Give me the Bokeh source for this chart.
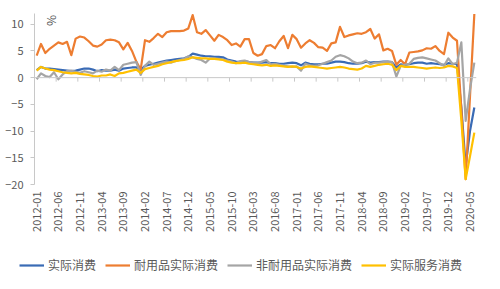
import math
import pandas as pd
from bokeh.plotting import figure
from bokeh.layouts import column
from bokeh.models import FixedTicker, Range1d, Span, Legend, LegendItem, Label
from bokeh.embed import file_html
from bokeh.resources import INLINE

# ---- data -------------------------------------------------------------
MONTHS = [str(p) for p in pd.period_range("2012-01", "2020-06", freq="M")]

TICK_LABELS = ["2012-01", "2012-06", "2012-11", "2013-04", "2013-09", "2014-02",
               "2014-07", "2014-12", "2015-05", "2015-10", "2016-03", "2016-08",
               "2017-01", "2017-06", "2017-11", "2018-04", "2018-09", "2019-02",
               "2019-07", "2019-12", "2020-05"]

SERIES_NAMES = ["实际消费", "耐用品实际消费", "非耐用品实际消费", "实际服务消费"]

TOTAL = [1.4, 2.0, 1.7, 1.7, 1.6, 1.5, 1.4, 1.3, 1.2, 1.3,
         1.5, 1.7, 1.7, 1.5, 1.2, 1.4, 1.3, 1.3, 1.5, 1.3,
         1.7, 1.8, 1.9, 1.9, 1.4, 2.2, 2.4, 2.6, 2.8, 3.0,
         3.2, 3.3, 3.4, 3.5, 3.6, 3.9, 4.5, 4.3, 4.1, 4.0,
         4.0, 3.9, 3.9, 3.8, 3.4, 3.2, 3.0, 2.9, 3.1, 2.9,
         2.8, 2.8, 2.8, 2.9, 2.7, 2.7, 2.6, 2.6, 2.7, 2.8,
         2.7, 2.3, 2.8, 2.6, 2.5, 2.5, 2.6, 2.6, 2.8, 3.0,
         3.0, 2.9, 2.7, 2.6, 2.6, 2.7, 3.0, 2.8, 2.9, 2.9,
         3.0, 3.0, 2.9, 1.9, 2.5, 2.4, 2.5, 2.7, 2.8, 2.8,
         2.6, 2.7, 2.6, 2.5, 2.4, 2.7, 2.6, 2.5, -5.5, -16.5,
         -10.0, -5.6]

DURABLE = [4.1, 6.3, 4.6, 5.4, 6.0, 6.6, 6.3, 6.7, 4.2, 7.3,
           7.7, 7.5, 6.8, 6.0, 5.8, 6.2, 7.0, 7.1, 7.0, 6.6,
           5.3, 6.5, 5.0, 3.0, 1.5, 7.0, 6.7, 7.4, 8.2, 7.6,
           8.5, 8.7, 8.7, 8.7, 8.8, 9.2, 11.7, 8.5, 8.2, 8.9,
           7.9, 6.9, 8.0, 7.6, 7.0, 6.1, 6.4, 5.8, 7.2, 7.2,
           4.6, 4.1, 4.4, 5.9, 6.1, 5.5, 6.8, 7.8, 5.5, 8.0,
           7.2, 5.6, 6.4, 7.0, 6.5, 5.7, 5.6, 5.0, 6.4, 6.6,
           9.5, 7.6, 7.9, 8.1, 8.3, 8.2, 8.5, 9.1, 7.3, 8.1,
           5.1, 5.4, 5.0, 2.4, 3.3, 2.5, 4.7, 4.8, 4.9, 5.1,
           5.5, 5.4, 5.9, 5.0, 4.4, 8.4, 7.5, 6.9, -6.0, -19.0,
           -3.5, 11.9]

NONDURABLE = [-0.3, 0.8, 0.3, 0.1, 1.0, -0.3, 0.6, 1.2, 1.3, 1.1,
              0.9, 1.2, 1.0, 0.8, 1.3, 1.1, 1.5, 1.3, 2.0, 1.4,
              2.4, 2.6, 2.8, 2.9, 0.5, 2.2, 3.0, 2.4, 2.6, 2.8,
              3.0, 2.8, 3.1, 3.3, 3.5, 4.0, 3.8, 3.5, 3.3, 2.8,
              3.6, 3.6, 3.5, 3.4, 3.2, 3.0, 2.7, 3.1, 3.2, 2.9,
              2.8, 2.7, 3.0, 3.3, 2.5, 2.6, 2.4, 2.2, 2.1, 2.0,
              2.1, 1.3, 2.6, 2.3, 2.2, 2.3, 2.6, 2.9, 3.2, 3.9,
              4.2, 4.0, 3.6, 3.0, 2.7, 2.8, 3.2, 2.5, 2.8, 2.8,
              2.9, 3.0, 2.9, 0.2, 2.2, 2.4, 2.6, 3.5, 3.7, 3.8,
              3.6, 3.4, 3.2, 2.7, 2.2, 3.6, 2.5, 2.8, 6.6, -8.1,
              -2.2, 2.8]

SERVICES = [1.3, 2.0, 1.7, 1.5, 1.4, 1.2, 1.0, 0.9, 0.8, 0.9,
            0.7, 0.6, 0.5, 0.3, 0.2, 0.4, 0.4, 0.6, 0.3, 0.8,
            0.9, 1.1, 1.3, 1.5, 0.9, 1.6, 1.8, 2.0, 2.2, 2.5,
            2.7, 2.9, 3.1, 3.2, 3.3, 3.5, 3.8, 3.7, 3.6, 3.6,
            3.5, 3.5, 3.4, 3.3, 3.0, 2.8, 2.7, 2.7, 2.8, 2.6,
            2.5, 2.4, 2.3, 2.4, 2.2, 2.3, 2.2, 2.1, 2.0, 2.1,
            2.0, 1.7, 2.0, 2.1, 2.0, 1.9, 1.8, 1.7, 1.8, 1.9,
            2.0, 1.9, 1.7, 1.6, 1.5, 1.7, 2.2, 2.0, 2.2, 2.4,
            2.5, 2.6, 2.4, 1.4, 2.2, 2.0, 2.0, 2.0, 1.9, 1.8,
            1.7, 1.8, 1.9, 1.8, 1.9, 2.2, 2.1, 1.8, -8.0, -19.0,
            -14.7, -10.3]

Y_TICKS = [-20, -15, -10, -5, 0, 5, 10]
Y_MIN, Y_MAX = -20, 12

# ---- style ------------------------------------------------------------
COLORS = ["#3A6BB5", "#ED7D31", "#A5A5A5", "#FFC000"]
TEXT_COLOR = "#595959"
AXIS_COLOR = "#C8C8C8"
FONT = "Noto Sans CJK SC"

x = list(range(len(MONTHS)))
tick_idx = [MONTHS.index(t) for t in TICK_LABELS]
all_series = [TOTAL, DURABLE, NONDURABLE, SERVICES]

p = figure(width=500, height=250, output_backend="svg", toolbar_location=None,
           x_range=Range1d(-0.5, len(MONTHS) - 0.5), y_range=Range1d(Y_MIN, Y_MAX),
           min_border_left=34, min_border_right=24, min_border_top=13,
           min_border_bottom=66)
p.frame_align = False
p.outline_line_color = None
p.xgrid.visible = False
p.ygrid.visible = False

# y axis
ya = p.yaxis[0]
ya.ticker = FixedTicker(ticks=Y_TICKS)
ya.axis_line_color = AXIS_COLOR
ya.major_tick_line_color = AXIS_COLOR
ya.major_tick_out = 4
ya.major_tick_in = 0
ya.minor_tick_line_color = None
ya.major_label_standoff = 7
ya.major_label_text_font = FONT
ya.major_label_text_font_size = "11px"
ya.major_label_text_color = TEXT_COLOR

# x axis (labels only, at the bottom)
xa = p.xaxis[0]
xa.ticker = FixedTicker(ticks=tick_idx)
xa.major_label_overrides = {i: MONTHS[i] for i in tick_idx}
xa.major_label_orientation = math.pi / 2
xa.axis_line_color = None
xa.major_tick_line_color = None
xa.minor_tick_line_color = None
xa.major_tick_out = 0
xa.major_tick_in = 0
xa.major_label_standoff = 7
xa.major_label_text_font = FONT
xa.major_label_text_font_size = "11px"
xa.major_label_text_color = TEXT_COLOR

# category axis drawn at y = 0 with tick marks between categories
p.add_layout(Span(location=0, dimension="width", line_color=AXIS_COLOR, line_width=1))
bx = [i - 0.5 for i in tick_idx]
p.segment(x0=bx, y0=[0] * len(bx), x1=bx, y1=[-0.75] * len(bx),
          line_color=AXIS_COLOR, line_width=1)

for ys, c in zip(all_series, COLORS):
    p.line(x, ys, line_color=c, line_width=2.2, line_join="round")

p.add_layout(Label(x=16, y=164, x_units="screen", y_units="screen", text="%",
                   angle=math.pi / 2, text_align="center", text_baseline="middle",
                   text_font=FONT, text_font_size="12px", text_color=TEXT_COLOR))

# ---- legend strip -----------------------------------------------------
lg = figure(width=500, height=39, output_backend="svg", toolbar_location=None,
            x_axis_type=None, y_axis_type=None, min_border=0,
            x_range=Range1d(-0.5, len(MONTHS) - 0.5), y_range=Range1d(Y_MIN, Y_MAX))
lg.frame_align = False
lg.outline_line_color = None
lg.xgrid.visible = False
lg.ygrid.visible = False
keys = [lg.line(x, ys, line_color=c, line_width=2.2, visible=False)
        for ys, c in zip(all_series, COLORS)]
legend = Legend(items=[LegendItem(label=n, renderers=[r]) for n, r in zip(SERIES_NAMES, keys)],
                orientation="horizontal", location=(19, 16),
                background_fill_alpha=0, border_line_color=None,
                glyph_width=25, glyph_height=12, label_standoff=4, spacing=9,
                padding=0, margin=0, label_height=12,
                label_text_font=FONT, label_text_font_size="12px",
                label_text_color=TEXT_COLOR)
lg.add_layout(legend)

layout = column(p, lg, spacing=0)
open("out.html", "w").write(file_html(layout, INLINE))
